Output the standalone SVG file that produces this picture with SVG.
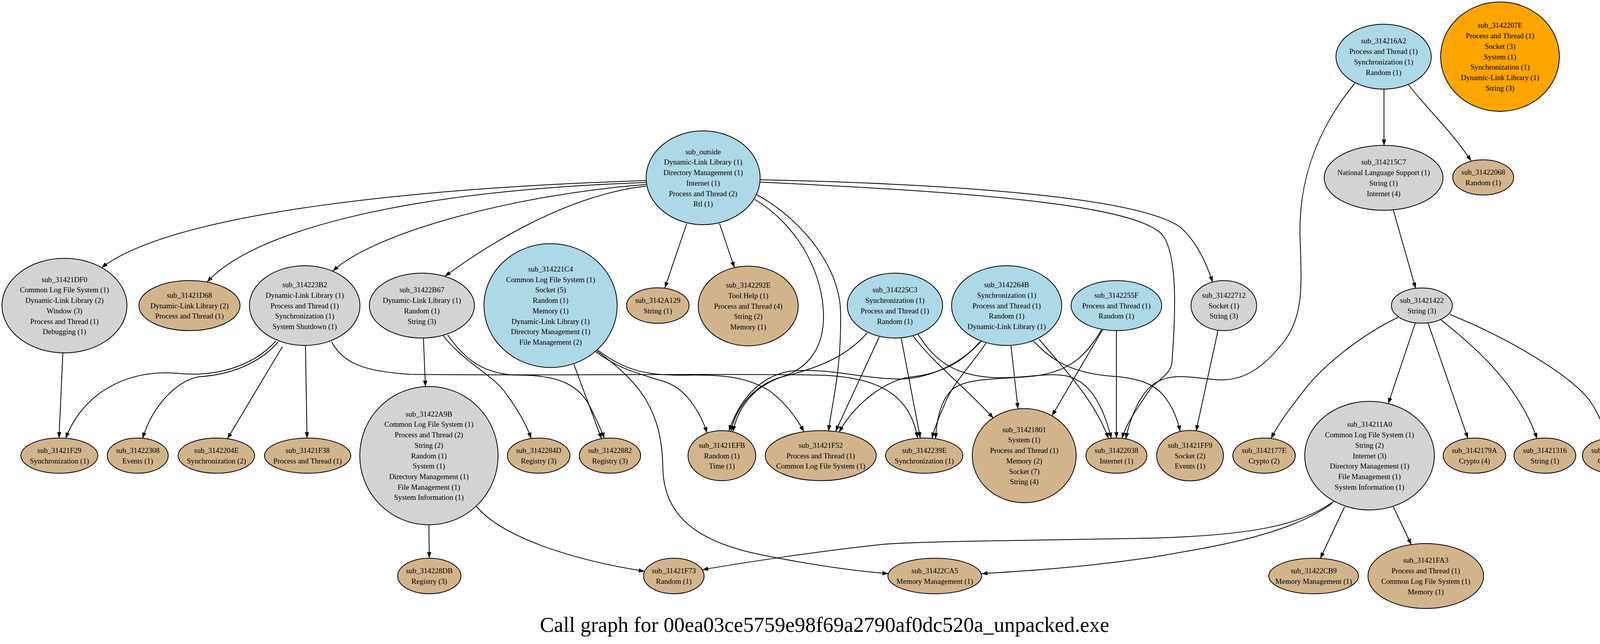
<svg xmlns="http://www.w3.org/2000/svg" width="4222" height="1648" viewBox="0 0 4222 1648">
<style>
.n{stroke:#000;stroke-width:2}
.lb{fill:#add8e6}.gr{fill:#d3d3d3}.tn{fill:#d2b48c}.or{fill:#ffa500}
.t{font-family:"Liberation Serif","Times New Roman",serif;font-size:19px;text-anchor:middle;fill:#000}
.e path{fill:none;stroke:#000;stroke-width:2;marker-end:url(#ah)}
.title{font-family:"Liberation Serif","Times New Roman",serif;font-size:54px;text-anchor:middle;fill:#000}
</style>
<defs>
<marker id="ah" markerUnits="userSpaceOnUse" markerWidth="16" markerHeight="12" viewBox="0 0 16 12" refX="15" refY="5.5" orient="auto"><path d="M0,0 L15,5.5 L0,11 z" fill="#000"/></marker>
</defs>
<rect width="4222" height="1648" fill="#fff"/>
<g id="edges" class="e">
<path d="M1654,462 C1100,480 450,540 260,685"/>
<path d="M1654,467 C1000,490 640,600 530,722"/>
<path d="M1654,472 C1300,500 950,600 852,694"/>
<path d="M1654,476 C1450,500 1250,625 1139,707"/>
<path d="M1758,572 L1702,737"/>
<path d="M1842,572 L1880,685"/>
<path d="M1932,510 C2040,575 2112,700 2108,820 C2105,900 2060,950 1990,968 C1930,990 1885,1040 1871,1104"/>
<path d="M1937,498 C2050,560 2150,680 2152,800 C2154,950 2130,1030 2121,1103"/>
<path d="M1946,466 C2450,490 2900,520 2975,600 C3015,650 3010,800 3000,930 C2995,960 2960,975 2945,995 C2915,1040 2885,1080 2872,1122"/>
<path d="M1946,460 C2400,470 2900,500 3020,580 C3055,610 3085,660 3104,722"/>
<path d="M3543,228 L3543,372"/>
<path d="M3606,217 C3650,275 3720,340 3766,412"/>
<path d="M3470,211 C3380,320 3325,450 3328,600 C3331,720 3340,800 3290,870 C3240,935 3190,975 3120,972 C3050,968 3000,950 2950,985 C2915,1015 2893,1070 2882,1123"/>
<path d="M3567,538 L3624,738"/>
<path d="M3579,812 C3480,860 3380,940 3330,1010 C3290,1060 3265,1100 3254,1122"/>
<path d="M3623,827 L3554,1033"/>
<path d="M3656,827 L3758,1122"/>
<path d="M3688,818 C3780,890 3890,990 3935,1123"/>
<path d="M3712,805 C3850,860 4025,960 4073,1030 C4093,1060 4105,1090 4113,1122"/>
<path d="M3442,1297 L3380,1429"/>
<path d="M3567,1297 L3613,1394"/>
<path d="M3414,1283 C3330,1345 3200,1370 2950,1377 C2700,1382 2350,1385 2260,1393 C2100,1410 1900,1440 1798,1458"/>
<path d="M3410,1288 C3300,1370 3100,1400 2950,1426 C2750,1455 2600,1462 2513,1468"/>
<path d="M161,903 L151,1121"/>
<path d="M706,873 C640,945 540,965 450,955 C320,945 210,1010 168,1122"/>
<path d="M712,875 C660,935 580,960 510,964 C450,975 390,1040 365,1122"/>
<path d="M723,887 L582,1123"/>
<path d="M782,884 L786,1121"/>
<path d="M849,875 C880,930 930,950 1050,958 C1400,962 1900,955 2100,960 C2250,965 2330,1010 2349,1121"/>
<path d="M1084,865 L1089,989"/>
<path d="M1135,859 C1180,920 1260,960 1290,1000 C1320,1040 1345,1080 1360,1122"/>
<path d="M1146,857 C1190,920 1240,960 1330,960 C1420,960 1480,980 1510,1040 C1525,1070 1540,1100 1547,1122"/>
<path d="M1098,1343 L1099,1428"/>
<path d="M1219,1295 C1280,1370 1450,1430 1650,1462"/>
<path d="M1469,932 L1540,1123"/>
<path d="M1528,898 C1640,980 1695,1050 1697,1200 C1700,1330 1800,1390 1950,1420 C2100,1450 2200,1462 2274,1468"/>
<path d="M1525,900 C1590,950 1660,962 1710,980 C1760,1000 1795,1060 1810,1108"/>
<path d="M1529,895 C1600,950 1660,962 1760,960 C1870,958 1920,970 1970,1000 C2010,1030 2040,1070 2058,1105"/>
<path d="M2220,852 C2160,920 2080,945 2000,965 C1930,990 1890,1040 1876,1105"/>
<path d="M2251,862 L2139,1104"/>
<path d="M2307,865 L2356,1121"/>
<path d="M2336,858 C2390,930 2470,990 2543,1070"/>
<path d="M2350,855 C2390,920 2440,960 2540,966 C2620,970 2680,952 2730,962 C2790,975 2825,1040 2845,1122"/>
<path d="M2512,873 C2460,930 2380,970 2300,970 C2200,968 2120,940 2020,950 C1940,965 1890,1030 1866,1103"/>
<path d="M2508,875 C2470,920 2420,955 2330,965 C2270,972 2190,1030 2148,1106"/>
<path d="M2524,878 C2490,930 2440,980 2420,1030 C2405,1065 2392,1095 2386,1122"/>
<path d="M2588,884 L2606,1046"/>
<path d="M2660,868 C2720,940 2800,1020 2838,1122"/>
<path d="M2646,873 C2690,920 2740,955 2850,963 C2920,968 2960,985 2985,1020 C3003,1045 3015,1075 3021,1104"/>
<path d="M2820,844 C2780,910 2740,950 2650,962 C2560,972 2480,965 2440,995 C2410,1020 2398,1070 2395,1123"/>
<path d="M2823,843 L2693,1064"/>
<path d="M2858,846 L2858,1121"/>
<path d="M3118,846 L3062,1103"/>
</g>
<g id="sub_outside"><ellipse class="n lb" cx="1800" cy="455" rx="146" ry="120"/><text class="t" y="394.75"><tspan x="1800">sub_outside</tspan><tspan x="1800" dy="26.7">Dynamic-Link Library (1)</tspan><tspan x="1800" dy="26.7">Directory Management (1)</tspan><tspan x="1800" dy="26.7">Internet (1)</tspan><tspan x="1800" dy="26.7">Process and Thread (2)</tspan><tspan x="1800" dy="26.7">Rtl (1)</tspan></text></g>
<g id="sub_314216A2"><ellipse class="n lb" cx="3542" cy="145" rx="122" ry="83"/><text class="t" y="111.45"><tspan x="3542">sub_314216A2</tspan><tspan x="3542" dy="26.7">Process and Thread (1)</tspan><tspan x="3542" dy="26.7">Synchronization (1)</tspan><tspan x="3542" dy="26.7">Random (1)</tspan></text></g>
<g id="sub_3142207E"><ellipse class="n or" cx="3840" cy="145" rx="152" ry="140"/><text class="t" y="71.4"><tspan x="3840">sub_3142207E</tspan><tspan x="3840" dy="26.7">Process and Thread (1)</tspan><tspan x="3840" dy="26.7">Socket (3)</tspan><tspan x="3840" dy="26.7">System (1)</tspan><tspan x="3840" dy="26.7">Synchronization (1)</tspan><tspan x="3840" dy="26.7">Dynamic-Link Library (1)</tspan><tspan x="3840" dy="26.7">String (3)</tspan></text></g>
<g id="sub_314215C7"><ellipse class="n gr" cx="3542" cy="455" rx="152" ry="83"/><text class="t" y="421.45"><tspan x="3542">sub_314215C7</tspan><tspan x="3542" dy="26.7">National Language Support (1)</tspan><tspan x="3542" dy="26.7">String (1)</tspan><tspan x="3542" dy="26.7">Internet (4)</tspan></text></g>
<g id="sub_31422068"><ellipse class="n tn" cx="3797" cy="454" rx="78" ry="45"/><text class="t" y="447.15"><tspan x="3797">sub_31422068</tspan><tspan x="3797" dy="26.7">Random (1)</tspan></text></g>
<g id="sub_31421422"><ellipse class="n gr" cx="3640" cy="782" rx="78" ry="45"/><text class="t" y="775.15"><tspan x="3640">sub_31421422</tspan><tspan x="3640" dy="26.7">String (3)</tspan></text></g>
<g id="sub_31421DF0"><ellipse class="n gr" cx="165" cy="782" rx="160" ry="121"/><text class="t" y="721.75"><tspan x="165">sub_31421DF0</tspan><tspan x="165" dy="26.7">Common Log File System (1)</tspan><tspan x="165" dy="26.7">Dynamic-Link Library (2)</tspan><tspan x="165" dy="26.7">Window (3)</tspan><tspan x="165" dy="26.7">Process and Thread (1)</tspan><tspan x="165" dy="26.7">Debugging (1)</tspan></text></g>
<g id="sub_31421D68"><ellipse class="n tn" cx="485" cy="782" rx="129.5" ry="64"/><text class="t" y="761.8"><tspan x="485">sub_31421D68</tspan><tspan x="485" dy="26.7">Dynamic-Link Library (2)</tspan><tspan x="485" dy="26.7">Process and Thread (1)</tspan></text></g>
<g id="sub_314223B2"><ellipse class="n gr" cx="780" cy="782" rx="141.5" ry="102"/><text class="t" y="735.1"><tspan x="780">sub_314223B2</tspan><tspan x="780" dy="26.7">Dynamic-Link Library (1)</tspan><tspan x="780" dy="26.7">Process and Thread (1)</tspan><tspan x="780" dy="26.7">Synchronization (1)</tspan><tspan x="780" dy="26.7">System Shutdown (1)</tspan></text></g>
<g id="sub_31422B67"><ellipse class="n gr" cx="1080" cy="782" rx="134.5" ry="83"/><text class="t" y="748.45"><tspan x="1080">sub_31422B67</tspan><tspan x="1080" dy="26.7">Dynamic-Link Library (1)</tspan><tspan x="1080" dy="26.7">Random (1)</tspan><tspan x="1080" dy="26.7">String (3)</tspan></text></g>
<g id="sub_314221C4"><ellipse class="n lb" cx="1409.5" cy="782" rx="170.5" ry="158.5"/><text class="t" y="695.05"><tspan x="1409.5">sub_314221C4</tspan><tspan x="1409.5" dy="26.7">Common Log File System (1)</tspan><tspan x="1409.5" dy="26.7">Socket (5)</tspan><tspan x="1409.5" dy="26.7">Random (1)</tspan><tspan x="1409.5" dy="26.7">Memory (1)</tspan><tspan x="1409.5" dy="26.7">Dynamic-Link Library (1)</tspan><tspan x="1409.5" dy="26.7">Directory Management (1)</tspan><tspan x="1409.5" dy="26.7">File Management (2)</tspan></text></g>
<g id="sub_3142A129"><ellipse class="n tn" cx="1684" cy="782" rx="80" ry="45.5"/><text class="t" y="775.15"><tspan x="1684">sub_3142A129</tspan><tspan x="1684" dy="26.7">String (1)</tspan></text></g>
<g id="sub_3142292E"><ellipse class="n tn" cx="1915.5" cy="783" rx="128" ry="102"/><text class="t" y="736.1"><tspan x="1915.5">sub_3142292E</tspan><tspan x="1915.5" dy="26.7">Tool Help (1)</tspan><tspan x="1915.5" dy="26.7">Process and Thread (4)</tspan><tspan x="1915.5" dy="26.7">String (2)</tspan><tspan x="1915.5" dy="26.7">Memory (1)</tspan></text></g>
<g id="sub_314225C3"><ellipse class="n lb" cx="2291" cy="782" rx="122" ry="83"/><text class="t" y="748.45"><tspan x="2291">sub_314225C3</tspan><tspan x="2291" dy="26.7">Synchronization (1)</tspan><tspan x="2291" dy="26.7">Process and Thread (1)</tspan><tspan x="2291" dy="26.7">Random (1)</tspan></text></g>
<g id="sub_3142264B"><ellipse class="n lb" cx="2577" cy="782" rx="141" ry="102"/><text class="t" y="735.1"><tspan x="2577">sub_3142264B</tspan><tspan x="2577" dy="26.7">Synchronization (1)</tspan><tspan x="2577" dy="26.7">Process and Thread (1)</tspan><tspan x="2577" dy="26.7">Random (1)</tspan><tspan x="2577" dy="26.7">Dynamic-Link Library (1)</tspan></text></g>
<g id="sub_3142255F"><ellipse class="n lb" cx="2858" cy="782" rx="116" ry="64"/><text class="t" y="761.8"><tspan x="2858">sub_3142255F</tspan><tspan x="2858" dy="26.7">Process and Thread (1)</tspan><tspan x="2858" dy="26.7">Random (1)</tspan></text></g>
<g id="sub_31422712"><ellipse class="n gr" cx="3133" cy="782" rx="84" ry="64"/><text class="t" y="761.8"><tspan x="3133">sub_31422712</tspan><tspan x="3133" dy="26.7">Socket (1)</tspan><tspan x="3133" dy="26.7">String (3)</tspan></text></g>
<g id="sub_31421F29"><ellipse class="n tn" cx="152" cy="1166" rx="98.5" ry="45"/><text class="t" y="1159.15"><tspan x="152">sub_31421F29</tspan><tspan x="152" dy="26.7">Synchronization (1)</tspan></text></g>
<g id="sub_31422308"><ellipse class="n tn" cx="352.6" cy="1166" rx="78" ry="45"/><text class="t" y="1159.15"><tspan x="352.6">sub_31422308</tspan><tspan x="352.6" dy="26.7">Events (1)</tspan></text></g>
<g id="sub_3142204E"><ellipse class="n tn" cx="554" cy="1166" rx="98" ry="45"/><text class="t" y="1159.15"><tspan x="554">sub_3142204E</tspan><tspan x="554" dy="26.7">Synchronization (2)</tspan></text></g>
<g id="sub_31421F38"><ellipse class="n tn" cx="787.5" cy="1166" rx="110.5" ry="45"/><text class="t" y="1159.15"><tspan x="787.5">sub_31421F38</tspan><tspan x="787.5" dy="26.7">Process and Thread (1)</tspan></text></g>
<g id="sub_31422A9B"><ellipse class="n gr" cx="1098" cy="1166" rx="177" ry="177"/><text class="t" y="1065.7"><tspan x="1098">sub_31422A9B</tspan><tspan x="1098" dy="26.7">Common Log File System (1)</tspan><tspan x="1098" dy="26.7">Process and Thread (2)</tspan><tspan x="1098" dy="26.7">String (2)</tspan><tspan x="1098" dy="26.7">Random (1)</tspan><tspan x="1098" dy="26.7">System (1)</tspan><tspan x="1098" dy="26.7">Directory Management (1)</tspan><tspan x="1098" dy="26.7">File Management (1)</tspan><tspan x="1098" dy="26.7">System Information (1)</tspan></text></g>
<g id="sub_3142284D"><ellipse class="n tn" cx="1379" cy="1166" rx="80" ry="45"/><text class="t" y="1159.15"><tspan x="1379">sub_3142284D</tspan><tspan x="1379" dy="26.7">Registry (3)</tspan></text></g>
<g id="sub_31422882"><ellipse class="n tn" cx="1561.5" cy="1166" rx="78.5" ry="45"/><text class="t" y="1159.15"><tspan x="1561.5">sub_31422882</tspan><tspan x="1561.5" dy="26.7">Registry (3)</tspan></text></g>
<g id="sub_31421EFB"><ellipse class="n tn" cx="1848" cy="1166" rx="86.7" ry="64"/><text class="t" y="1145.8"><tspan x="1848">sub_31421EFB</tspan><tspan x="1848" dy="26.7">Random (1)</tspan><tspan x="1848" dy="26.7">Time (1)</tspan></text></g>
<g id="sub_31421F52"><ellipse class="n tn" cx="2101" cy="1166" rx="142" ry="64"/><text class="t" y="1145.8"><tspan x="2101">sub_31421F52</tspan><tspan x="2101" dy="26.7">Process and Thread (1)</tspan><tspan x="2101" dy="26.7">Common Log File System (1)</tspan></text></g>
<g id="sub_3142239E"><ellipse class="n tn" cx="2366" cy="1166" rx="99" ry="45"/><text class="t" y="1159.15"><tspan x="2366">sub_3142239E</tspan><tspan x="2366" dy="26.7">Synchronization (1)</tspan></text></g>
<g id="sub_31421801"><ellipse class="n tn" cx="2622" cy="1166" rx="133" ry="120.5"/><text class="t" y="1105.75"><tspan x="2622">sub_31421801</tspan><tspan x="2622" dy="26.7">System (1)</tspan><tspan x="2622" dy="26.7">Process and Thread (1)</tspan><tspan x="2622" dy="26.7">Memory (2)</tspan><tspan x="2622" dy="26.7">Socket (7)</tspan><tspan x="2622" dy="26.7">String (4)</tspan></text></g>
<g id="sub_31422038"><ellipse class="n tn" cx="2858" cy="1166" rx="78" ry="45"/><text class="t" y="1159.15"><tspan x="2858">sub_31422038</tspan><tspan x="2858" dy="26.7">Internet (1)</tspan></text></g>
<g id="sub_31421FF9"><ellipse class="n tn" cx="3046.5" cy="1166" rx="85.5" ry="64.5"/><text class="t" y="1145.8"><tspan x="3046.5">sub_31421FF9</tspan><tspan x="3046.5" dy="26.7">Socket (2)</tspan><tspan x="3046.5" dy="26.7">Events (1)</tspan></text></g>
<g id="sub_3142177E"><ellipse class="n tn" cx="3236" cy="1166" rx="80" ry="45"/><text class="t" y="1159.15"><tspan x="3236">sub_3142177E</tspan><tspan x="3236" dy="26.7">Crypto (2)</tspan></text></g>
<g id="sub_314211A0"><ellipse class="n gr" cx="3506" cy="1166" rx="166" ry="139"/><text class="t" y="1092.4"><tspan x="3506">sub_314211A0</tspan><tspan x="3506" dy="26.7">Common Log File System (1)</tspan><tspan x="3506" dy="26.7">String (2)</tspan><tspan x="3506" dy="26.7">Internet (3)</tspan><tspan x="3506" dy="26.7">Directory Management (1)</tspan><tspan x="3506" dy="26.7">File Management (1)</tspan><tspan x="3506" dy="26.7">System Information (1)</tspan></text></g>
<g id="sub_3142179A"><ellipse class="n tn" cx="3774.5" cy="1166" rx="80" ry="45"/><text class="t" y="1159.15"><tspan x="3774.5">sub_3142179A</tspan><tspan x="3774.5" dy="26.7">Crypto (4)</tspan></text></g>
<g id="sub_31421316"><ellipse class="n tn" cx="3955" cy="1166" rx="79" ry="45"/><text class="t" y="1159.15"><tspan x="3955">sub_31421316</tspan><tspan x="3955" dy="26.7">String (1)</tspan></text></g>
<g id="sub_3142172F"><ellipse class="n tn" cx="4130" cy="1166" rx="79" ry="45"/><text class="t" y="1159.15"><tspan x="4130">sub_3142172F</tspan><tspan x="4130" dy="26.7">Crypto (2)</tspan></text></g>
<g id="sub_314228DB"><ellipse class="n tn" cx="1099" cy="1474" rx="81" ry="45.5"/><text class="t" y="1467.15"><tspan x="1099">sub_314228DB</tspan><tspan x="1099" dy="26.7">Registry (3)</tspan></text></g>
<g id="sub_31421F73"><ellipse class="n tn" cx="1725" cy="1474" rx="77.5" ry="45.5"/><text class="t" y="1467.15"><tspan x="1725">sub_31421F73</tspan><tspan x="1725" dy="26.7">Random (1)</tspan></text></g>
<g id="sub_31422CA5"><ellipse class="n tn" cx="2393" cy="1474" rx="120" ry="45.5"/><text class="t" y="1467.15"><tspan x="2393">sub_31422CA5</tspan><tspan x="2393" dy="26.7">Memory Management (1)</tspan></text></g>
<g id="sub_31422CB9"><ellipse class="n tn" cx="3363" cy="1474" rx="115" ry="45.5"/><text class="t" y="1467.15"><tspan x="3363">sub_31422CB9</tspan><tspan x="3363" dy="26.7">Memory Management (1)</tspan></text></g>
<g id="sub_31421FA3"><ellipse class="n tn" cx="3650" cy="1474" rx="148" ry="83"/><text class="t" y="1440.45"><tspan x="3650">sub_31421FA3</tspan><tspan x="3650" dy="26.7">Process and Thread (1)</tspan><tspan x="3650" dy="26.7">Common Log File System (1)</tspan><tspan x="3650" dy="26.7">Memory (1)</tspan></text></g>
<text class="title" x="2111" y="1617">Call graph for 00ea03ce5759e98f69a2790af0dc520a_unpacked.exe</text>
</svg>
